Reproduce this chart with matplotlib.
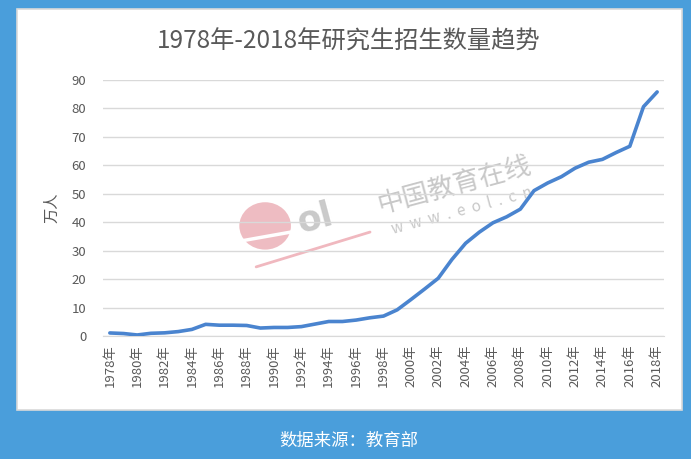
import numpy as np
import matplotlib.pyplot as plt
from matplotlib.patches import Rectangle, Ellipse

plt.rcParams['font.family'] = ['Noto Sans CJK SC', 'DejaVu Sans']

years = list(range(1978, 2019))
# 研究生招生数（万人）
enroll = [1.07, 0.87, 0.36, 0.95, 1.11, 1.55, 2.32, 4.1, 3.8, 3.8, 3.7, 2.8,
          3.0, 3.0, 3.3, 4.2, 5.1, 5.1, 5.6, 6.4, 7.0, 9.2, 12.8, 16.5, 20.3,
          26.9, 32.6, 36.5, 39.8, 41.9, 44.6, 51.1, 53.8, 56.0, 59.0, 61.1,
          62.1, 64.5, 66.7, 80.6, 85.8]
tick_years = years[::2]
tick_labels = [f"{y}年" for y in tick_years]

W, H = 691, 459
fig = plt.figure(figsize=(W / 100, H / 100), dpi=100)
fig.patch.set_facecolor('#4a9edb')

# white panel
fig.patches.append(Rectangle((17 / W, 1 - 410 / H), (682 - 17) / W, (410 - 9) / H,
                             transform=fig.transFigure, facecolor='white',
                             edgecolor='#d9d9d9', lw=1.2, zorder=-5))

ax = fig.add_axes([103 / W, 1 - 336 / H, (664 - 103) / W, (336 - 80) / H])
ax.set_facecolor('none')
ax.set_zorder(5)

# watermark (eol logo)
ax.add_patch(Ellipse((0.289, 0.43), 0.092, 0.185, transform=ax.transAxes,
                     color='#e8a0a8', alpha=0.7, lw=0, zorder=0))
ax.plot([0.23, 0.345], [0.365, 0.41], transform=ax.transAxes, color='white',
        lw=2.5, zorder=0)
ax.plot([0.273, 0.476], [0.27, 0.406], transform=ax.transAxes, color='#f0b8bf',
        lw=2, solid_capstyle='round', zorder=0)
ax.text(0.378, 0.46, 'ol', transform=ax.transAxes, fontsize=25, fontweight='bold',
        color='#c0c0c0', alpha=0.85, rotation=15, ha='center', va='center', zorder=0,
        family=['DejaVu Sans'])
ax.text(0.627, 0.59, '中国教育在线', transform=ax.transAxes, fontsize=19,
        color='#c8c8c8', rotation=15, ha='center', va='center', zorder=0)
ax.text(0.64, 0.49, 'w  w  w  .  e  o  l  .  c  n', transform=ax.transAxes,
        fontsize=11, color='#c8c8c8', rotation=15, ha='center', va='center',
        zorder=0)

ax.plot(years, enroll, color='#4a84cf', lw=2.6, solid_capstyle='round', zorder=3)

ax.set_xlim(1977.5, 2018.5)
ax.set_ylim(0, 90)
ax.set_yticks(np.arange(0, 91, 10))
ax.grid(axis='y', color='#d9d9d9', lw=1)
ax.set_axisbelow(True)
ax.set_xticks(tick_years)
ax.set_xticklabels(tick_labels, rotation=90, fontsize=9, color='#595959')
ax.tick_params(axis='both', length=0, labelsize=9.5, colors='#595959')
ax.tick_params(axis='y', pad=12)
ax.tick_params(axis='x', pad=6)
for s in ['top', 'right', 'left']:
    ax.spines[s].set_visible(False)
ax.spines['bottom'].set_color('#d9d9d9')

ax.set_ylabel('万人', fontsize=11, color='#595959', labelpad=8)

fig.text(349 / W, 1 - 42 / H, '1978年-2018年研究生招生数量趋势', fontsize=17.5,
         color='#595959', ha='center', va='center')
fig.text(349 / W, 1 - 441 / H, '数据来源：教育部', fontsize=12.5, color='white',
         ha='center', va='center')

fig.savefig('out.png', dpi=100, facecolor=fig.get_facecolor())
